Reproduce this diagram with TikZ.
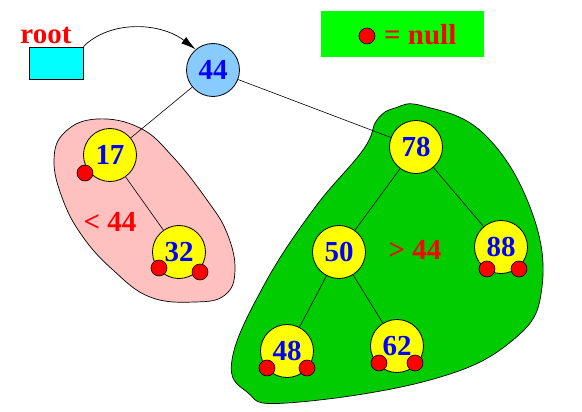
\documentclass[tikz,border=0pt]{standalone}
\usepackage{fontspec}
\setmainfont{Liberation Serif}
\usetikzlibrary{arrows.meta}
\definecolor{pinkb}{RGB}{255,192,192}
\definecolor{greenb}{RGB}{0,204,0}
\definecolor{legendg}{RGB}{0,255,0}
\definecolor{lblue}{RGB}{136,204,255}
\definecolor{cyanb}{RGB}{0,255,255}
\definecolor{yellowb}{RGB}{255,255,0}
\definecolor{redb}{RGB}{255,0,0}
\definecolor{blueb}{RGB}{0,0,255}
\begin{document}
\begin{tikzpicture}[x=1pt,y=-1pt,
  bst/.style={circle,draw=black,line width=0.8pt,fill=yellowb,minimum size=53pt,inner sep=0pt,text=blueb,font=\fontsize{29}{30}\selectfont\bfseries},
  nulldot/.style={circle,draw=black,line width=0.6pt,fill=redb,minimum size=16pt,inner sep=0pt},
  edge/.style={line width=0.6pt},
  blob/.style={draw=black,line width=0.7pt},
  lbl/.style={text=redb,font=\fontsize{29}{30}\selectfont\bfseries,inner sep=0pt}]
\useasboundingbox (0,0) rectangle (582,412);
% blobs
\draw[blob,fill=pinkb] plot[smooth cycle,tension=0.7] coordinates {(97,119) (140,128) (173,157) (207,200) (227,233) (235,270) (225,295) (195,302) (150,297) (113,270) (83,237) (63,200) (54,160) (65,132)};
\draw[blob,fill=greenb] plot[smooth cycle,tension=0.7] coordinates {(423,106) (483,133) (530,207) (542,287) (513,340) (430,380) (287,403) (247,392) (232,360) (263,287) (313,210) (363,150) (377,120) (395,108)};
% legend
\node[fill=legendg,minimum width=163pt,minimum height=46pt,inner sep=0pt] (legend) at (402.5,34) {};
\node[nulldot] (legdot) at (367,36) {};
\node[lbl,anchor=west] (legtxt) at (384,35) {= null};
% root
\node[draw=black,line width=0.8pt,fill=cyanb,minimum width=54pt,minimum height=32pt,inner sep=0pt] (rootbox) at (56,63) {};
\node[lbl] (rootlbl) at (46,35) {root};
% nodes
\node[bst,fill=lblue] (n44) at (213,70) {44};
\node[bst] (n17) at (110,155) {17};
\node[bst] (n32) at (179,252) {32};
\node[bst] (n78) at (416,147) {78};
\node[bst] (n50) at (339,252) {50};
\node[bst] (n88) at (501,247) {88};
\node[bst] (n48) at (287,351) {48};
\node[bst] (n62) at (397,346) {62};
% edges
\draw[edge] (n44) -- (n17);
\draw[edge] (n44) -- (n78);
\draw[edge] (n17) -- (n32);
\draw[edge] (n78) -- (n50);
\draw[edge] (n78) -- (n88);
\draw[edge] (n50) -- (n48);
\draw[edge] (n50) -- (n62);
% null dots
\node[nulldot] (d17) at (85,173) {};
\node[nulldot] (d32a) at (159,268) {};
\node[nulldot] (d32b) at (200,272) {};
\node[nulldot] (d88a) at (487,269) {};
\node[nulldot] (d88b) at (519,269) {};
\node[nulldot] (d48a) at (267,368) {};
\node[nulldot] (d48b) at (307,368) {};
\node[nulldot] (d62a) at (379,363) {};
\node[nulldot] (d62b) at (415,363) {};
% labels
\node[lbl] (lt) at (110,222) {< 44};
\node[lbl] (gt) at (415,250) {> 44};
% arrow
\draw[line width=0.7pt,-{Latex[length=15pt,width=8pt]}] (rootbox.north east) .. controls (110,20) and (160,22) .. (n44.130);
\end{tikzpicture}
\end{document}
